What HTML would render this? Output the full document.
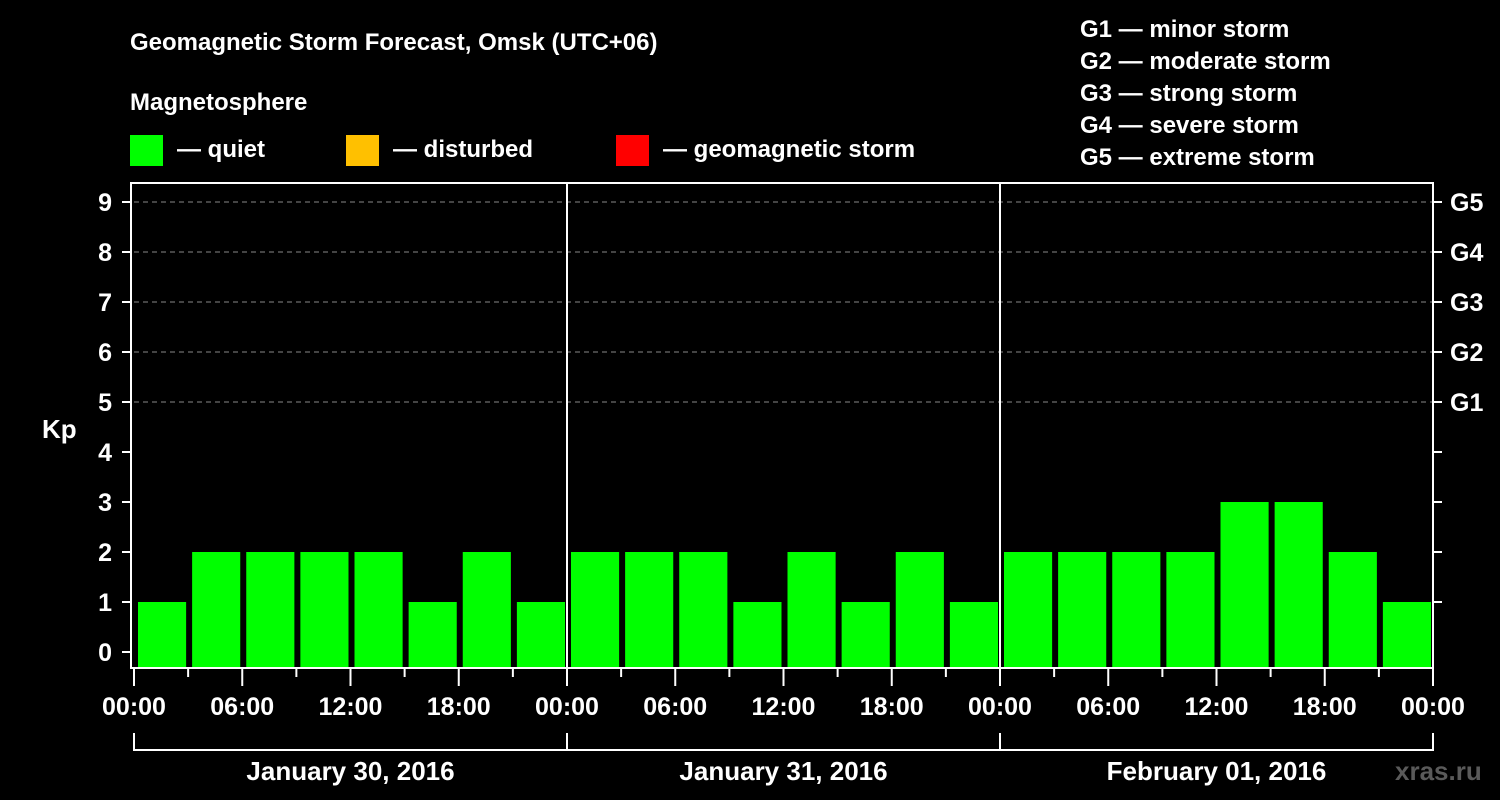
<!DOCTYPE html>
<html><head><meta charset="utf-8"><style>
html,body{margin:0;padding:0;background:#000;width:1500px;height:800px;overflow:hidden}
svg text{font-family:"Liberation Sans",sans-serif;font-weight:bold;fill:#fff}
</style></head><body>
<svg id="c" width="1500" height="800">
<text x="130" y="50" font-size="24">Geomagnetic Storm Forecast, Omsk (UTC+06)</text>
<text x="130" y="110" font-size="24">Magnetosphere</text>
<rect x="130" y="135" width="33" height="31" fill="#00ff00"/>
<text x="177" y="157" font-size="24">— quiet</text>
<rect x="346" y="135" width="33" height="31" fill="#ffc000"/>
<text x="393" y="157" font-size="24">— disturbed</text>
<rect x="616" y="135" width="33" height="31" fill="#ff0000"/>
<text x="663" y="157" font-size="24">— geomagnetic storm</text>
<g font-size="24">
<text x="1080" y="37">G1 — minor storm</text>
<text x="1080" y="69">G2 — moderate storm</text>
<text x="1080" y="101">G3 — strong storm</text>
<text x="1080" y="133">G4 — severe storm</text>
<text x="1080" y="165">G5 — extreme storm</text>
</g>
<text x="42" y="438" font-size="26">Kp</text>
<text x="1395" y="780" font-size="26" fill="#555" style="fill:#5a5a5a">xras.ru</text>
<g id="plot"></g>
</svg>
<script>
const kpValues = [1,2,2,2,2,1,2,1, 2,2,2,1,2,1,2,1, 2,2,2,2,3,3,2,1];
const dayLabels = ["January 30, 2016","January 31, 2016","February 01, 2016"];
const hourLabels = ["00:00","06:00","12:00","18:00"];
const kpTicks = [0,1,2,3,4,5,6,7,8,9];
const gLabels = ["G1","G2","G3","G4","G5"];

const NS="http://www.w3.org/2000/svg";
const g=document.getElementById('plot');
const X0=134, DAY=433, TOP=183, BOT=667;
const xH=h=>X0+h*DAY/24;
const yK=k=>652-50*k;
function mk(t,a){const e=document.createElementNS(NS,t);for(const k in a)e.setAttribute(k,a[k]);g.appendChild(e);return e;}

kpTicks.forEach(k=>{
  if(k>=5){const l=mk('line',{x1:X0,x2:1432,y1:yK(k),y2:yK(k),stroke:'#888','stroke-dasharray':'5,4','stroke-width':1});
  
  }
  const t=mk('line',{x1:122,x2:131,y1:yK(k),y2:yK(k),stroke:'#fff','stroke-width':2});
  
  
  const tx=mk('text',{x:112,y:yK(k)+9,'font-size':25,'text-anchor':'end'});tx.textContent=k;
  
  
  if(k>=1){const r=mk('line',{x1:1433,x2:1442,y1:yK(k),y2:yK(k),stroke:'#fff','stroke-width':2});
  
  }
});
gLabels.forEach((s,i)=>{
  const t=mk('text',{x:1450,y:yK(5+i)+9,'font-size':25});t.textContent=s;
  
  
});
kpValues.forEach((v,i)=>{
  const x=xH(i*3)+4, w=DAY/8-6;
  const b=mk('rect',{x:x,y:yK(v),width:w,height:BOT-yK(v),fill:'#00ff00'});
  
  
});
for(let d=1;d<dayLabels.length;d++){
  const l=mk('line',{x1:xH(24*d),x2:xH(24*d),y1:TOP,y2:BOT,stroke:'#fff','stroke-width':2});
  
  
}
const fr=mk('rect',{x:131,y:183,width:1302,height:485,fill:'none',stroke:'#fff','stroke-width':2});


for(let h=0;h<=72;h+=3){
  const major=h%6===0;
  const t=mk('line',{x1:xH(h),x2:xH(h),y1:668,y2:major?686:677,stroke:'#fff','stroke-width':2});
  
  
  if(major){const tx=mk('text',{x:xH(h),y:715,'font-size':25,'text-anchor':'middle'});
  tx.textContent=hourLabels[(h/6)%4];
  
  }
}
dayLabels.forEach((s,d)=>{
  const a=xH(24*d), b=xH(24*(d+1));
  const p=mk('path',{d:`M${a},733V750H${b}V733`,fill:'none',stroke:'#fff','stroke-width':2});
  
  
  const t=mk('text',{x:(a+b)/2,y:780,'font-size':26,'text-anchor':'middle'});t.textContent=s;
  
  
});
</script>
</body></html>
